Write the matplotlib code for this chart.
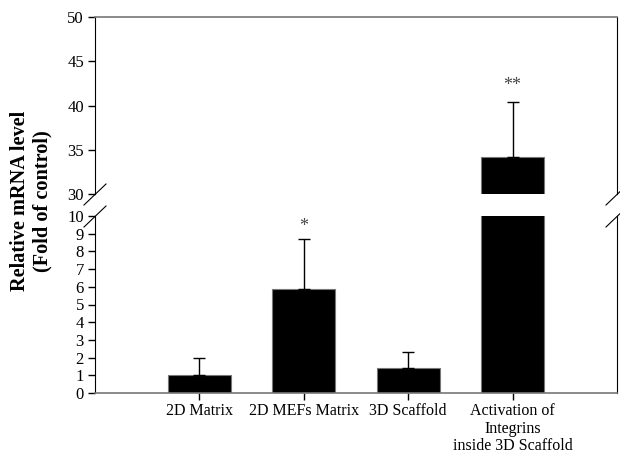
import matplotlib
matplotlib.use("Agg")
import matplotlib.pyplot as plt
from matplotlib.lines import Line2D

categories = ["2D Matrix", "2D MEFs Matrix", "3D Scaffold",
              "Activation of\nIntegrins\ninside 3D Scaffold"]
means = [1.0, 5.9, 1.43, 34.2]
errors = [1.0, 2.8, 0.87, 6.2]
stars = ["", "*", "", "**"]
upper_ticks = [30, 35, 40, 45, 50]
lower_ticks = list(range(0, 11))

plt.rcParams['font.family'] = ['Liberation Serif', 'DejaVu Serif']

fig = plt.figure(figsize=(6.2, 4.55), dpi=100)
left, right = 95 / 620, 617 / 620
ax_up = fig.add_axes([left, 1 - 194 / 455, right - left, (194 - 17) / 455])
ax_lo = fig.add_axes([left, 1 - 393 / 455, right - left, (393 - 216) / 455])

x = list(range(1, len(categories) + 1))
for ax in (ax_up, ax_lo):
    ax.bar(x, means, width=0.6, color='black', edgecolor='#777777', linewidth=0.8,
           yerr=[[0] * len(errors), errors], capsize=4,
           error_kw=dict(ecolor='black', elinewidth=1, capthick=1), zorder=2)
    ax.set_xlim(0, 5)
    ax.tick_params(axis='y', direction='out', length=5, width=1, labelsize=12,
                   colors='black', pad=3)
    ax.spines['left'].set_color('black')
    ax.spines['right'].set_color('black')

ax_up.set_ylim(30, 50)
ax_up.set_yticks(upper_ticks)
ax_up.spines['bottom'].set_visible(False)
ax_up.spines['top'].set_color('#777777')
ax_up.spines['top'].set_linewidth(1.2)
ax_up.set_xticks([])

ax_lo.set_ylim(0, 10)
ax_lo.set_yticks(lower_ticks)
ax_lo.spines['top'].set_visible(False)
ax_lo.spines['bottom'].set_color('#777777')
ax_lo.spines['bottom'].set_linewidth(1.2)
ax_lo.set_xticks(x)
ax_lo.set_xticklabels(categories, fontsize=11.5, linespacing=1.15)
ax_lo.tick_params(axis='x', direction='out', length=5, width=1, pad=2)

for i, s in enumerate(stars):
    if not s:
        continue
    top = means[i] + errors[i]
    if top > 10:
        ax_up.text(x[i], top + 0.9, s, ha='center', va='bottom', fontsize=13, color='#444444')
    else:
        ax_lo.text(x[i], top + 0.25, s, ha='center', va='bottom', fontsize=13, color='#444444')

# break marks
W, H = 620, 455
for (x0, x1) in [(84, 106), (606, 628)]:
    for (ya, yb) in [(205, 184), (227, 206)]:
        fig.add_artist(Line2D([x0 / W, x1 / W], [1 - ya / H, 1 - yb / H],
                              transform=fig.transFigure, color='black', linewidth=0.8))

fig.text(31 / W, 1 - 201 / H, "Relative mRNA level\n(Fold of control)", rotation=90,
         ha='center', va='center', fontsize=14.6, fontweight='bold', linespacing=1.15)

fig.savefig("out.png", dpi=100)
